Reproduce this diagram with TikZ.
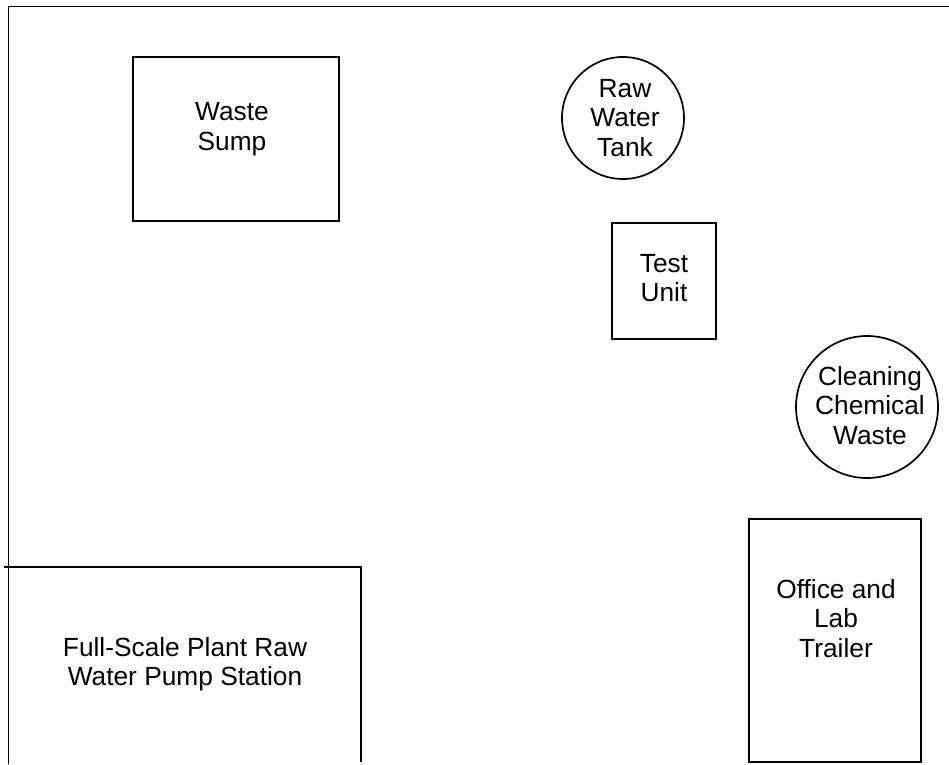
\documentclass[tikz,border=0pt]{standalone}
\usepackage{fontspec}
\setmainfont{Liberation Sans}
\begin{document}
\begin{tikzpicture}[x=1pt,y=-1pt, line width=1.7pt,
  lbl/.style={align=center, inner sep=0pt, font=\fontsize{26.3}{29.5}\selectfont}]
\useasboundingbox (0,0) rectangle (949,764);
% site boundary
\draw (949,6.5) -- (8.5,6.5) -- (8.5,764);
% full-scale plant pump station
\draw (4,567) -- (361,567) -- (361,762);
% waste sump
\draw (133,57) rectangle (339,221);
% raw water tank
\draw (623,118) circle[radius=61];
% test unit
\draw (612,223) rectangle (716,339);
% cleaning chemical waste
\draw (867,407) circle[radius=71];
% office and lab trailer
\draw (749,519) rectangle (921,762);
% labels
\node[lbl] (sump) at (232,129.3) {Waste\\Sump};
\node[lbl] (tank) at (625,118) {Raw\\Water\\Tank};
\node[lbl] (test) at (664,278) {Test\\Unit};
\node[lbl] (clean) at (870,405.5) {Cleaning\\Chemical\\Waste};
\node[lbl] (office) at (836,618.5) {Office and\\Lab\\Trailer};
\node[lbl] (pump) at (185,664) {Full-Scale Plant Raw\\Water Pump Station};
\end{tikzpicture}
\end{document}
